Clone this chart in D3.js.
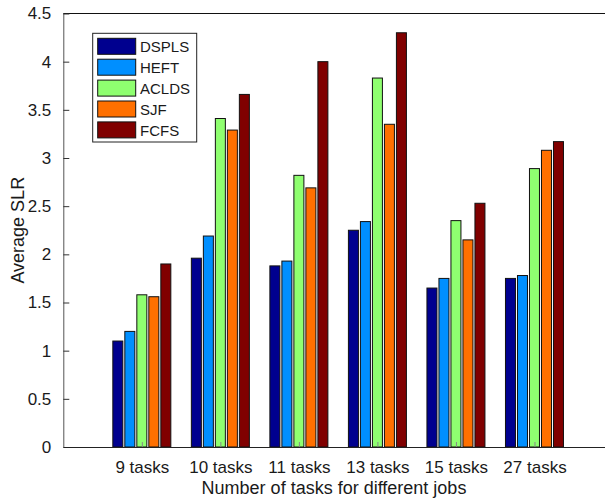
<!DOCTYPE html>
<html>
<head>
<meta charset="utf-8">
<script src="https://cdn.jsdelivr.net/npm/d3@7"></script>
<style>
  html, body { margin: 0; padding: 0; background: #fff; overflow: hidden; }
  svg { display: block; }
  text { font-family: "Liberation Sans", Arial, Helvetica, sans-serif; fill: #1a1a1a; }
</style>
</head>
<body>
<svg id="chart" width="605" height="501"></svg>
<script>
const categories = ["9 tasks", "10 tasks", "11 tasks", "13 tasks", "15 tasks", "27 tasks"];
const seriesNames = ["DSPLS", "HEFT", "ACLDS", "SJF", "FCFS"];
const DSPLS = [1.10, 1.96, 1.88, 2.25, 1.65, 1.75];
const HEFT  = [1.20, 2.19, 1.93, 2.34, 1.75, 1.78];
const ACLDS = [1.58, 3.41, 2.82, 3.83, 2.35, 2.89];
const SJF   = [1.56, 3.29, 2.69, 3.35, 2.15, 3.08];
const FCFS  = [1.90, 3.66, 4.00, 4.30, 2.53, 3.17];
const seriesValues = [DSPLS, HEFT, ACLDS, SJF, FCFS];
const colors = ["#00008F", "#008FFF", "#8FFF70", "#FF7000", "#800000"];
const yTicks = [0, 0.5, 1, 1.5, 2, 2.5, 3, 3.5, 4, 4.5];

const svg = d3.select("#chart");
const pLeft = 63.3, pRight = 613, pTop = 13.5, pBottom = 447;

const x = d3.scaleLinear().domain([0, 7]).range([pLeft, pRight]);
const y = d3.scaleLinear().domain([0, 4.5]).range([pBottom, pTop]);
const inner = d3.scaleBand().domain(seriesNames).range([-30, 30])
  .paddingInner(1/6).paddingOuter(1/12);

// bars
seriesNames.forEach((name, si) => {
  svg.append("g").selectAll("rect")
    .data(seriesValues[si])
    .join("rect")
    .attr("x", (d, i) => x(i + 1) + inner(name))
    .attr("y", d => y(d))
    .attr("width", inner.bandwidth())
    .attr("height", d => y(0) - y(d))
    .attr("fill", colors[si])
    .attr("stroke", "#111")
    .attr("stroke-width", 1);
});

// top border
svg.append("line").attr("x1", pLeft).attr("x2", pRight).attr("y1", pTop).attr("y2", pTop)
  .attr("stroke", "#111").attr("stroke-width", 1);

// y axis
const yAxis = d3.axisLeft(y).tickValues(yTicks).tickSize(-6).tickSizeOuter(0).tickPadding(12)
  .tickFormat(d => d3.format("")(d));
const gy = svg.append("g").attr("transform", `translate(${pLeft},0)`).call(yAxis);
gy.select(".domain").attr("stroke", "#555");
gy.selectAll(".tick line").attr("stroke", "#333");
gy.selectAll(".tick text").style("font-size", "17px").attr("fill", "#1a1a1a");

// x axis
const xAxis = d3.axisBottom(x).tickValues(d3.range(1, 7)).tickSize(-5).tickSizeOuter(0).tickPadding(14)
  .tickFormat(d => categories[d - 1]);
const gx = svg.append("g").attr("transform", `translate(0,${pBottom})`).call(xAxis);
gx.select(".domain").attr("stroke", "#222");
gx.selectAll(".tick line").attr("stroke", "#888");
gx.selectAll(".tick text").style("font-size", "17px").attr("fill", "#1a1a1a");

// axis titles
svg.append("text").attr("x", 334).attr("y", 494)
  .attr("text-anchor", "middle").style("font-size", "18px")
  .text("Number of tasks for different jobs");
svg.append("text").attr("transform", `translate(24,${(pTop + pBottom) / 2}) rotate(-90)`)
  .attr("text-anchor", "middle").style("font-size", "18px")
  .text("Average SLR");

// legend
const lg = svg.append("g");
lg.append("rect").attr("x", 92.7).attr("y", 33.3).attr("width", 104).attr("height", 108.7)
  .attr("fill", "#fff").attr("stroke", "#222").attr("stroke-width", 1);
seriesNames.forEach((name, i) => {
  const yy = 38.3 + i * 20.9;
  lg.append("rect").attr("x", 97.7).attr("y", yy).attr("width", 38).attr("height", 16)
    .attr("fill", colors[i]).attr("stroke", "#111").attr("stroke-width", 1);
  lg.append("text").attr("x", 140).attr("y", yy + 14).style("font-size", "15px").text(name);
});
</script>
</body>
</html>
